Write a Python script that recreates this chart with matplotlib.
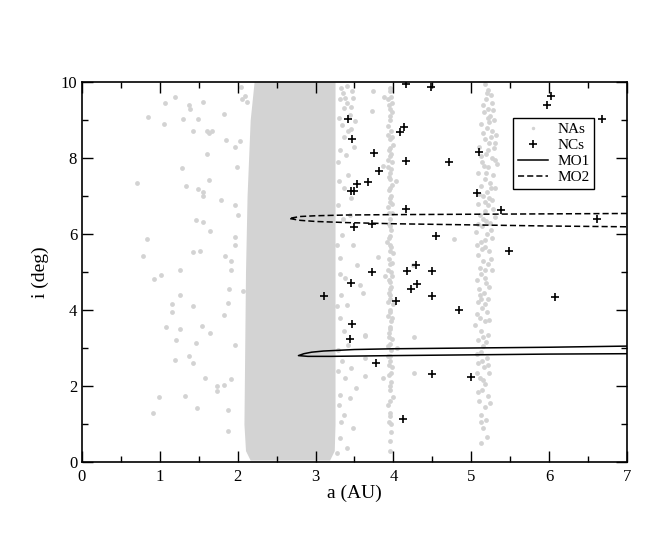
#!/usr/bin/env python3
import numpy as np
import matplotlib
matplotlib.use("Agg")
from matplotlib import pyplot as plt
from matplotlib.ticker import MultipleLocator

# --- NAs: main belt, drawn as a solid band (edges)
band_i = [0.05, 0.3, 1.0, 3.0, 5.0, 7.0, 9.0, 10.0]
band_left = [2.16, 2.10, 2.08, 2.09, 2.10, 2.12, 2.16, 2.21]
band_right = [3.18, 3.24, 3.25, 3.25, 3.25, 3.25, 3.25, 3.25]

# --- NAs: sparse points inside the picture (a, i)
na_inner = [
    (0.71, 7.34), (0.85, 9.07), (1.07, 9.45), (1.19, 9.60), (1.05, 8.90),
    (1.30, 9.03), (1.37, 9.39), (1.39, 9.29), (1.55, 9.47), (1.49, 9.03),
    (1.42, 8.72), (1.82, 9.15), (1.60, 8.71), (1.63, 8.67), (1.67, 8.71),
    (1.28, 7.73), (1.34, 7.27), (1.61, 8.10), (1.85, 8.47), (1.97, 8.30),
    (2.03, 8.44), (1.99, 7.75), (1.63, 7.42), (1.49, 7.19), (1.56, 7.10),
    (1.55, 7.01), (1.79, 6.89), (1.97, 6.75), (2.00, 6.49), (1.46, 6.36),
    (1.55, 6.32), (1.65, 6.07), (0.84, 5.86), (0.78, 5.43), (1.43, 5.53),
    (1.51, 5.56), (1.84, 5.43), (1.91, 5.29), (1.96, 5.70), (1.97, 5.93),
    (1.26, 5.06), (1.91, 5.04), (0.92, 4.81), (1.01, 4.91), (1.89, 4.56),
    (2.07, 4.50), (1.15, 4.17), (1.26, 4.39), (1.15, 3.94), (1.43, 4.10),
    (1.88, 4.19), (1.82, 3.86), (1.08, 3.55), (1.21, 3.22), (1.26, 3.49),
    (1.54, 3.59), (1.64, 3.40), (1.46, 3.12), (1.97, 3.08), (1.38, 2.80),
    (1.20, 2.68), (1.43, 2.61), (1.58, 2.20), (1.73, 1.99), (1.82, 2.03),
    (1.73, 1.87), (1.91, 2.18), (0.99, 1.71), (0.91, 1.30), (1.32, 1.73),
    (1.48, 1.43), (1.87, 1.37), (1.88, 0.82), (2.04, 9.88), (2.05, 9.55),
    (2.09, 9.62), (2.12, 9.48),
    # outer belt / Cybeles
    (3.33, 9.84), (3.38, 9.58), (3.48, 9.58), (3.36, 9.32), (3.44, 9.14),
    (3.51, 8.97), (3.34, 8.88), (3.42, 8.70), (3.39, 8.09), (3.42, 7.56),
    (3.36, 7.21), (3.46, 6.95), (3.29, 6.77), (3.44, 6.51), (3.34, 5.98),
    (3.48, 5.72), (3.31, 5.37), (3.53, 5.19), (3.38, 4.84), (3.57, 4.67),
    (3.40, 4.14), (3.31, 3.79), (3.63, 3.35), (3.42, 3.09), (3.34, 2.65),
    (3.46, 2.47), (3.38, 2.21), (3.31, 1.77), (3.44, 1.68), (3.36, 1.25),
    (3.48, 0.89), (3.31, 0.63), (3.40, 0.37), (3.30, 1.50), (3.63, 2.74),
    (3.45, 9.35), (3.30, 9.05), (3.49, 8.30), (3.31, 8.20), (3.29, 7.90),
    (3.33, 4.40), (3.29, 2.95), (3.52, 1.95), (3.35, 9.70), (3.41, 9.90),
    (3.47, 9.75), (3.40, 9.45), (3.32, 9.55), (3.46, 8.75), (3.37, 8.55),
    (3.30, 7.40), (3.35, 6.40), (3.28, 5.70), (3.32, 4.95), (3.28, 4.10),
    (3.36, 3.45), (3.29, 2.40), (3.33, 1.05), (3.28, 0.25),
    # Hildas
    (3.95, 9.85), (3.97, 9.60), (3.94, 9.40), (3.98, 9.20), (3.96, 9.00),
    (3.93, 8.85), (3.97, 8.70), (3.95, 8.50), (3.99, 8.35), (3.94, 8.20),
    (3.96, 8.05), (3.98, 7.90), (3.93, 7.75), (3.96, 7.60), (3.95, 7.45),
    (3.98, 7.30), (3.94, 7.15), (3.97, 7.00), (3.95, 6.85), (3.93, 6.70),
    (3.98, 6.55), (3.96, 6.40), (3.94, 6.25), (3.97, 6.10), (3.95, 5.95),
    (3.92, 5.80), (3.97, 5.65), (3.99, 5.50), (3.94, 5.35), (3.96, 5.20),
    (3.93, 5.05), (3.98, 4.90), (3.95, 4.75), (3.97, 4.60), (3.94, 4.45),
    (3.96, 4.30), (3.99, 4.15), (3.95, 4.00), (3.93, 3.85), (3.97, 3.70),
    (3.96, 3.55), (3.94, 3.40), (3.98, 3.25), (3.95, 3.10), (3.97, 2.95),
    (3.93, 2.80), (3.96, 2.65), (3.98, 2.50), (3.94, 2.30), (3.97, 2.10),
    (3.95, 1.90), (3.99, 1.70), (3.93, 1.50), (3.96, 1.30), (3.94, 1.05),
    (3.97, 0.80), (3.95, 0.55), (3.96, 0.30), (3.96, 9.75), (3.95, 9.30),
    (3.97, 8.10), (3.94, 7.50), (3.96, 6.95), (3.95, 5.55), (3.97, 5.00),
    (3.95, 4.40), (3.96, 3.95), (3.94, 3.30), (3.96, 2.00), (3.95, 1.20),
    (3.88, 9.60), (3.87, 7.80), (3.89, 4.90), (3.86, 2.20), (4.03, 7.40),
    (4.04, 3.00), (3.93, 9.55), (3.98, 9.45), (3.95, 9.10), (3.93, 8.60),
    (3.98, 8.55), (3.95, 8.25), (3.93, 7.95), (3.97, 7.70), (3.95, 7.20),
    (3.98, 6.80), (3.94, 6.55), (3.96, 6.20), (3.94, 5.90), (3.96, 5.70),
    (3.98, 5.25), (3.94, 4.80), (3.96, 4.55), (3.93, 4.20), (3.98, 3.80),
    (3.95, 3.50), (3.93, 3.05), (3.96, 2.80), (3.94, 2.55), (3.97, 2.35),
    (3.95, 1.60), (3.97, 1.00),
    # Trojans
    (5.18, 9.95), (5.22, 9.80), (5.25, 9.65), (5.19, 9.55), (5.27, 9.45),
    (5.21, 9.30), (5.16, 9.20), (5.24, 9.10), (5.29, 9.00), (5.13, 8.90),
    (5.20, 8.80), (5.27, 8.70), (5.32, 8.60), (5.17, 8.50), (5.23, 8.40),
    (5.10, 8.30), (5.29, 8.25), (5.19, 8.10), (5.26, 8.00), (5.14, 7.90),
    (5.33, 7.85), (5.22, 7.75), (5.09, 7.60), (5.28, 7.55), (5.17, 7.45),
    (5.24, 7.35), (5.12, 7.25), (5.31, 7.20), (5.20, 7.10), (5.15, 7.00),
    (5.27, 6.90), (5.08, 6.80), (5.22, 6.75), (5.18, 6.60), (5.11, 6.50),
    (5.30, 6.45), (5.24, 6.30), (5.14, 6.20), (5.06, 6.05), (5.20, 6.00),
    (5.27, 5.90), (5.12, 5.80), (5.17, 5.65), (5.23, 5.55), (5.09, 5.45),
    (5.15, 5.30), (5.21, 5.20), (5.11, 5.10), (5.26, 5.05), (5.13, 4.95),
    (5.07, 4.80), (5.19, 4.70), (5.10, 4.55), (5.16, 4.45), (5.22, 4.30),
    (5.08, 4.20), (5.14, 4.05), (5.20, 3.95), (5.11, 3.80), (5.17, 3.70),
    (5.05, 3.60), (5.13, 3.45), (5.21, 3.35), (5.09, 3.20), (5.15, 3.05),
    (5.12, 2.90), (5.20, 2.75), (5.08, 2.60), (5.16, 2.50), (5.23, 2.35),
    (5.11, 2.20), (5.18, 2.05), (5.14, 1.90), (5.21, 1.75), (5.10, 1.60),
    (5.17, 1.45), (5.13, 1.25), (5.19, 1.10), (5.15, 0.90), (5.20, 0.65),
    (5.12, 0.50), (5.21, 9.05), (5.25, 8.55), (5.16, 7.80), (5.23, 6.95),
    (5.19, 6.35), (5.14, 5.60), (5.18, 4.85), (5.12, 4.30), (5.20, 9.70),
    (5.15, 9.40), (5.28, 9.25), (5.23, 8.95), (5.15, 8.65), (5.30, 8.40),
    (5.21, 8.20), (5.12, 8.05), (5.30, 7.95), (5.19, 7.60), (5.25, 7.20),
    (5.10, 7.05), (5.18, 6.85), (5.28, 6.65), (5.15, 6.40), (5.09, 6.25),
    (5.25, 6.10), (5.18, 5.85), (5.07, 5.70), (5.25, 5.35), (5.18, 5.05),
    (5.23, 4.60), (5.11, 4.40), (5.17, 4.15), (5.07, 3.90), (5.23, 3.75),
    (5.15, 3.30), (5.19, 3.15), (5.07, 2.85), (5.14, 2.65), (5.22, 2.55),
    (5.07, 2.35), (5.15, 2.15), (5.09, 1.85), (5.24, 1.55), (5.13, 1.05),
    # others
    (4.78, 5.87), (4.27, 2.34), (3.63, 2.26), (3.61, 4.44), (4.25, 5.19),
    (4.26, 3.30), (3.63, 3.31), (3.74, 9.76), (3.72, 9.23), (3.80, 5.40),
]

# --- NCs (a, i)
nc_a = [3.42, 3.47, 3.53, 3.67, 3.46, 3.50, 3.50, 4.16, 4.48, 4.13, 4.09,
        3.75, 4.16, 4.71, 5.10, 3.82, 5.07, 4.16, 5.38, 3.72, 4.55, 5.48,
        3.73, 4.17, 4.29, 4.49, 4.30, 4.22, 4.03, 4.50, 4.84, 3.78, 4.50,
        5.00, 4.12, 3.46, 3.11, 3.47, 3.44, 6.61, 6.08, 6.03, 5.97, 6.68]
nc_i = [9.02, 8.49, 7.32, 7.36, 7.13, 7.13, 6.18, 9.95, 9.88, 8.81, 8.69,
        8.14, 7.92, 7.90, 8.17, 7.65, 7.07, 6.65, 6.62, 6.25, 5.95, 5.55,
        5.01, 5.03, 5.18, 5.03, 4.69, 4.55, 4.23, 4.36, 3.99, 2.60, 2.32,
        2.25, 1.13, 4.72, 4.38, 3.62, 3.24, 6.39, 4.35, 9.63, 9.40, 9.03]

# --- MO1 / MO2 loops (closed curves)
mo1_a = [7.0, 6.0, 5.0, 4.0, 3.5, 3.1, 2.95, 2.85, 2.78, 2.9, 3.2, 4.0, 5.0, 6.0, 7.0]
mo1_i = [3.05, 3.02, 3.00, 2.98, 2.96, 2.92, 2.89, 2.85, 2.80, 2.78, 2.78, 2.80, 2.82, 2.84, 2.85]
mo2_a = [7.0, 6.0, 5.0, 4.0, 3.4, 3.0, 2.8, 2.66, 2.8, 3.0, 3.4, 4.0, 5.0, 6.0, 7.0]
mo2_i = [6.54, 6.53, 6.52, 6.51, 6.50, 6.48, 6.46, 6.41, 6.36, 6.33, 6.30, 6.27, 6.24, 6.21, 6.19]

GRAY = "#d3d3d3"


def drawGraph():
    plt.rcParams['font.family'] = 'serif'
    plt.rcParams['font.serif'] = ['Liberation Serif', 'DejaVu Serif']
    fig = plt.figure(figsize=(6.54, 5.45), dpi=100)
    ax = fig.add_axes([82/654, 83/545, 545/654, 380/545])

    ax.fill_betweenx(band_i, band_left, band_right, color=GRAY, lw=0, zorder=1)
    na = np.array(na_inner)
    ax.scatter(na[:, 0], na[:, 1], s=12, color=GRAY, lw=0, zorder=1)

    ax.plot(nc_a, nc_i, ls="none", marker="+", ms=6, mew=1.2, color="black", zorder=3)
    ax.plot(mo1_a, mo1_i, color="black", lw=1.1, zorder=2)
    ax.plot(mo2_a, mo2_i, color="black", lw=1.1, ls=(0, (4, 2)), zorder=2)

    # legend handles
    h_na, = ax.plot([], [], ls="none", marker="o", ms=2.5, mec="none", color=GRAY, label="NAs")
    h_nc, = ax.plot([], [], ls="none", marker="+", ms=6, mew=1.2, color="black", label="NCs")
    h_m1, = ax.plot([], [], color="black", lw=1.1, label="MO1")
    h_m2, = ax.plot([], [], color="black", lw=1.1, ls=(0, (4, 2)), label="MO2")
    leg = ax.legend(handles=[h_na, h_nc, h_m1, h_m2], loc="upper right",
                    bbox_to_anchor=(0.94, 0.905), fontsize=11, frameon=True,
                    fancybox=False, framealpha=1, edgecolor="black",
                    handlelength=2.0, borderpad=0.3, labelspacing=0.15,
                    handletextpad=0.6, borderaxespad=0)
    leg.get_frame().set_linewidth(1.0)

    ax.set_xlim(0, 7)
    ax.set_ylim(0, 10)
    ax.xaxis.set_major_locator(MultipleLocator(1))
    ax.xaxis.set_minor_locator(MultipleLocator(0.5))
    ax.yaxis.set_major_locator(MultipleLocator(2))
    ax.yaxis.set_minor_locator(MultipleLocator(1))
    ax.tick_params(which="both", direction="in", top=True, right=True, labelsize=12, width=1.0)
    ax.tick_params(which="major", length=8)
    ax.tick_params(which="minor", length=4)
    ax.tick_params(axis="x", pad=5)
    for lbl in ax.get_xticklabels() + ax.get_yticklabels():
        lbl.set_fontfamily("Liberation Serif")
    for sp in ax.spines.values():
        sp.set_linewidth(1.2)

    ax.set_xlabel("a (AU)", fontsize=14, labelpad=0)
    ax.set_ylabel("i (deg)", fontsize=14, labelpad=8)
    fig.savefig("out.png", dpi=100)


def main():
    drawGraph()


if __name__ == '__main__':
    main()
